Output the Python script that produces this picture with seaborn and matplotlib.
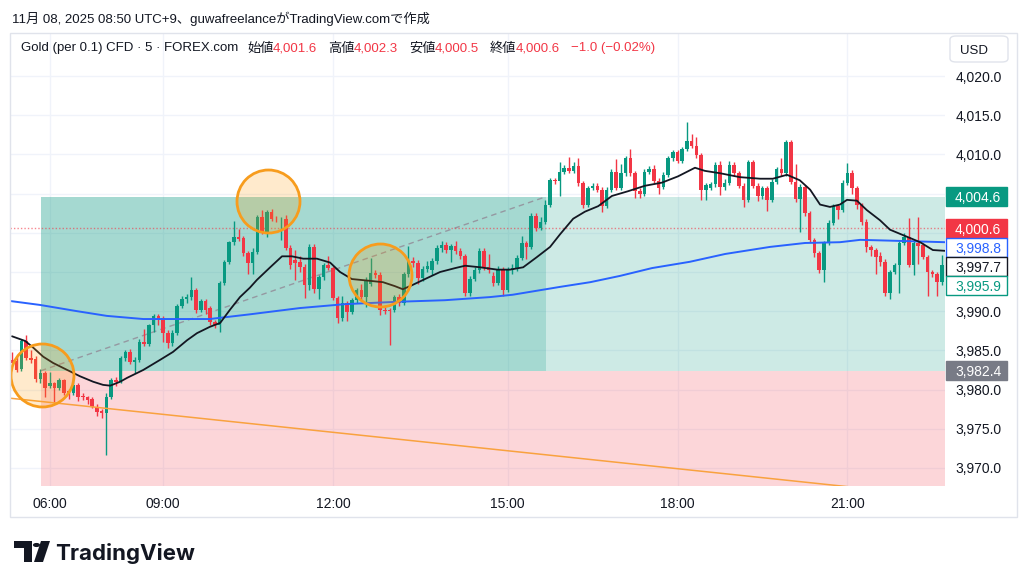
import matplotlib
matplotlib.use("Agg")
import matplotlib.pyplot as plt
import seaborn as sns
import numpy as np
from matplotlib.patches import Rectangle, FancyBboxPatch, Polygon, Circle

# ---------------- data ----------------
opens = [3983.8, 3983.6, 3982.6, 3986.2, 3984.0, 3983.9, 3981.4, 3982.1, 3980.5, 3980.8,
         3980.2, 3981.2, 3979.8, 3979.6, 3980.6, 3979.1, 3979.0, 3978.8, 3977.8, 3977.3,
         3977.0, 3979.1, 3981.2, 3981.0, 3984.0, 3984.8, 3983.5, 3983.8, 3986.1, 3985.8,
         3988.2, 3989.4, 3989.1, 3987.2, 3985.9, 3987.2, 3990.7, 3991.6, 3991.8, 3992.7,
         3990.2, 3991.3, 3990.4, 3988.6, 3988.2, 3993.6, 3996.3, 3998.8, 3999.5, 3999.3,
         3997.4, 3996.1, 3997.6, 4002.0, 4000.1, 4002.7, 4001.8, 4001.7, 4001.8, 3998.1,
         3996.5, 3996.3, 3995.6, 3993.3, 3998.2, 3992.8, 3994.3, 3995.9, 3995.5, 3991.7,
         3989.1, 3991.0, 3989.9, 3991.4, 3992.7, 3991.8, 3993.5, 3994.9, 3994.6, 3990.2,
         3990.1, 3990.1, 3991.8, 3991.0, 3994.7, 3996.4, 3996.2, 3994.2, 3995.4, 3995.3,
         3996.4, 3998.1, 3998.4, 3997.8, 3998.3, 3997.7, 3997.0, 3992.3, 3994.1, 3995.3,
         3997.7, 3995.6, 3994.5, 3993.6, 3995.3, 3992.7, 3995.3, 3995.5, 3996.8, 3998.7,
         3998.2, 4002.1, 4000.6, 4001.4, 4003.5, 4006.7, 4006.6, 4007.8, 4008.3, 4007.9,
         4008.5, 4006.4, 4003.5, 4005.7, 4006.0, 4005.5, 4003.4, 4005.5, 4007.8, 4005.7,
         4007.6, 4009.5, 4007.6, 4005.3, 4005.0, 4007.8, 4008.1, 4006.6, 4005.9, 4007.4,
         4009.5, 4010.3, 4009.2, 4010.7, 4011.7, 4011.1, 4009.9, 4005.5, 4005.7, 4006.2,
         4008.6, 4005.8, 4006.4, 4008.7, 4007.6, 4006.0, 4004.2, 4009.0, 4006.0, 4004.7,
         4005.7, 4004.2, 4006.5, 4008.1, 4007.6, 4011.6, 4006.5, 4004.3, 4005.8, 4002.5,
         3999.1, 3997.4, 3995.3, 3998.7, 4001.3, 4003.4, 4002.9, 4006.4, 4007.6, 4005.7,
         4003.5, 4001.4, 3998.2, 3997.8, 3997.0, 3996.3, 3992.3, 3995.0, 3995.9, 3998.7,
         3999.5, 3995.9, 3998.7, 3998.4, 3996.9, 3995.0, 3994.7, 3993.7]
highs = [3984.8, 3984.2, 3986.4, 3986.9, 3985.0, 3984.3, 3982.6, 3982.4, 3982.3, 3981.0,
         3981.5, 3981.4, 3980.1, 3981.6, 3980.9, 3979.6, 3979.2, 3979.0, 3978.2, 3977.5,
         3979.5, 3981.5, 3981.6, 3984.3, 3985.1, 3985.2, 3984.2, 3986.5, 3987.7, 3988.4,
         3989.6, 3989.6, 3989.4, 3987.6, 3987.6, 3990.9, 3992.0, 3992.2, 3994.3, 3992.9,
         3991.6, 3991.5, 3990.6, 3988.9, 3993.8, 3996.5, 3999.0, 4001.5, 4000.5, 3999.6,
         3997.7, 3998.0, 4002.3, 4002.9, 4002.9, 4003.0, 4002.2, 4002.0, 4002.3, 3998.4,
         3997.8, 3997.0, 3996.0, 3998.6, 3998.6, 3994.6, 3996.1, 3997.0, 3995.8, 3992.0,
         3992.0, 3991.3, 3991.7, 3993.0, 3993.5, 3994.4, 3996.8, 3995.3, 3995.0, 3990.5,
         3990.4, 3992.1, 3992.2, 3995.0, 3998.3, 3996.9, 3996.5, 3995.8, 3996.4, 3996.8,
         3998.4, 3998.9, 3998.8, 3998.6, 3998.9, 3998.0, 3997.3, 3994.5, 3995.6, 3998.0,
         3998.0, 3997.3, 3995.0, 3995.8, 3995.6, 3995.7, 3996.0, 3997.2, 3999.6, 3999.0,
         4002.5, 4002.5, 4002.0, 4004.2, 4007.0, 4007.0, 4009.0, 4008.6, 4009.7, 4009.0,
         4009.6, 4006.6, 4006.0, 4006.3, 4006.3, 4005.8, 4005.8, 4008.1, 4009.4, 4008.8,
         4009.8, 4010.7, 4007.9, 4005.7, 4008.1, 4008.5, 4008.7, 4007.0, 4007.7, 4009.8,
         4010.6, 4010.6, 4011.0, 4014.1, 4012.6, 4012.2, 4010.2, 4006.4, 4006.5, 4009.0,
         4009.2, 4006.9, 4009.2, 4009.0, 4007.9, 4006.3, 4009.3, 4009.3, 4006.3, 4006.0,
         4006.0, 4006.8, 4008.4, 4009.5, 4011.8, 4011.8, 4008.8, 4006.2, 4006.1, 4002.8,
         3999.4, 3997.7, 3999.0, 4001.6, 4003.7, 4003.7, 4006.7, 4008.9, 4008.0, 4006.0,
         4003.8, 4001.7, 3998.5, 3998.1, 3997.5, 3996.6, 3995.3, 3996.2, 3999.0, 4000.0,
         4001.9, 3999.0, 4002.0, 3998.7, 3997.2, 3995.3, 3995.0, 3997.2]
lows = [3983.0, 3982.2, 3982.4, 3983.8, 3983.4, 3981.0, 3980.9, 3979.0, 3980.2, 3978.4,
        3980.0, 3979.3, 3978.8, 3979.3, 3978.5, 3978.7, 3978.1, 3977.6, 3976.6, 3976.4,
        3971.7, 3978.8, 3980.5, 3980.8, 3983.7, 3983.2, 3982.1, 3983.5, 3985.5, 3985.5,
        3987.4, 3988.3, 3986.1, 3985.3, 3985.6, 3986.9, 3990.4, 3991.0, 3991.4, 3989.8,
        3989.9, 3989.6, 3988.3, 3987.9, 3987.3, 3993.3, 3996.0, 3998.5, 3998.9, 3997.0,
        3994.8, 3994.8, 3997.3, 3999.8, 3999.5, 4001.5, 4001.4, 3999.1, 3997.8, 3995.4,
        3994.0, 3995.0, 3991.7, 3992.7, 3992.3, 3991.5, 3994.0, 3995.2, 3991.4, 3988.5,
        3988.8, 3988.8, 3989.6, 3991.1, 3991.3, 3990.5, 3993.2, 3994.2, 3989.5, 3989.6,
        3985.7, 3989.9, 3990.6, 3990.8, 3994.4, 3995.6, 3993.5, 3993.9, 3995.0, 3994.6,
        3996.0, 3997.6, 3997.4, 3996.3, 3997.3, 3996.6, 3992.0, 3991.9, 3993.8, 3994.9,
        3995.2, 3994.9, 3993.2, 3993.3, 3992.0, 3992.4, 3994.8, 3995.1, 3996.5, 3996.7,
        3997.9, 4000.2, 4000.3, 4001.1, 4003.3, 4006.2, 4004.7, 4007.5, 4007.6, 4007.6,
        4006.0, 4003.2, 4003.3, 4005.4, 4005.2, 4002.6, 4003.1, 4005.2, 4005.4, 4005.4,
        4007.3, 4007.3, 4004.4, 4004.5, 4004.7, 4007.5, 4006.3, 4004.9, 4005.6, 4007.1,
        4009.2, 4008.9, 4008.9, 4010.4, 4010.8, 4009.6, 4004.2, 4004.2, 4005.4, 4005.9,
        4004.8, 4005.5, 4006.1, 4007.3, 4005.7, 4003.3, 4003.9, 4005.7, 4004.0, 4004.3,
        4002.8, 4003.9, 4006.2, 4007.3, 4007.3, 4006.2, 4003.9, 4000.1, 4002.2, 3998.8,
        3996.9, 3994.9, 3993.7, 3998.4, 4001.0, 4001.8, 4002.6, 4006.1, 4005.0, 4003.0,
        4001.0, 3997.5, 3997.0, 3994.8, 3995.8, 3991.9, 3991.6, 3994.7, 3992.3, 3998.4,
        3995.6, 3994.6, 3996.0, 3996.6, 3992.0, 3994.3, 3991.9, 3993.4]
closes = [3983.4, 3982.5, 3986.2, 3984.0, 3983.8, 3981.4, 3982.1, 3980.2, 3980.8, 3980.2,
          3981.2, 3979.6, 3979.6, 3980.6, 3979.1, 3979.0, 3978.7, 3977.8, 3977.1, 3977.0,
          3979.1, 3981.2, 3981.0, 3984.0, 3984.8, 3983.5, 3983.8, 3986.1, 3985.8, 3988.2,
          3989.4, 3988.9, 3987.2, 3985.9, 3987.2, 3990.7, 3991.6, 3991.8, 3992.7, 3990.2,
          3991.3, 3990.2, 3988.6, 3988.2, 3993.6, 3996.3, 3998.8, 3999.5, 3999.2, 3997.4,
          3996.1, 3997.6, 4002.0, 4000.1, 4002.7, 4001.8, 4001.7, 4001.8, 3998.1, 3995.9,
          3996.1, 3995.6, 3993.3, 3998.2, 3992.8, 3994.3, 3995.9, 3995.5, 3991.7, 3989.1,
          3991.0, 3989.9, 3991.4, 3992.7, 3991.8, 3994.0, 3994.9, 3994.6, 3990.2, 3990.0,
          3990.0, 3991.8, 3991.0, 3994.7, 3996.4, 3996.1, 3994.2, 3995.4, 3995.8, 3996.4,
          3998.1, 3998.4, 3997.8, 3998.3, 3997.7, 3997.0, 3992.3, 3994.1, 3995.3, 3997.7,
          3995.6, 3995.3, 3993.6, 3995.3, 3992.7, 3995.3, 3995.5, 3996.8, 3998.7, 3998.2,
          4002.1, 4000.6, 4001.4, 4003.5, 4006.7, 4006.6, 4007.8, 4008.3, 4007.9, 4008.5,
          4006.4, 4003.5, 4005.7, 4006.0, 4005.5, 4003.4, 4005.5, 4007.8, 4005.7, 4007.6,
          4009.5, 4007.6, 4005.3, 4005.0, 4007.8, 4008.1, 4006.6, 4005.7, 4007.4, 4009.5,
          4010.3, 4009.2, 4010.7, 4011.7, 4011.1, 4009.9, 4005.5, 4006.1, 4006.2, 4008.6,
          4005.8, 4006.4, 4008.7, 4007.6, 4006.0, 4004.2, 4009.0, 4006.0, 4004.7, 4005.7,
          4004.2, 4006.5, 4008.1, 4007.6, 4011.6, 4006.5, 4004.3, 4005.8, 4002.5, 3999.1,
          3997.4, 3995.3, 3998.7, 4001.3, 4003.4, 4002.9, 4006.4, 4007.6, 4005.7, 4003.5,
          4001.4, 3998.2, 3997.8, 3996.9, 3996.3, 3992.3, 3995.0, 3995.9, 3998.7, 3999.5,
          3995.9, 3998.7, 3998.3, 3996.9, 3995.0, 3994.7, 3993.7, 3995.9]

time_tick_idx = [8, 32, 68, 105, 141, 177]
time_tick_labels = ["06:00", "09:00", "12:00", "15:00", "18:00", "21:00"]
price_ticks = [3970, 3975, 3980, 3985, 3990, 3995, 4000, 4005, 4010, 4015, 4020]

ma_fast_idx = [0, 2.8, 4.4, 6.6, 8.7, 11.7, 14.4, 17.2, 19.3, 20.8, 22.9, 24.4, 27.8, 31.4,
               34.1, 37.1, 39.2, 41.9, 44.1, 46.2, 48.3, 50.4, 51.9, 54.7, 57.2, 59.3, 61.7,
               64.6, 67.4, 69.5, 72.0, 75.4, 78.6, 81.1, 82.8, 84.7, 87.5, 90.7, 93.9, 96.0,
               99.2, 102.8, 105.5, 108.3, 111.2, 114.0, 116.1, 118.9, 121.4, 124.2, 127.1,
               130.5, 134.1, 137.7, 141.1, 144.7, 146.8, 150.0, 154.2, 158.5, 161.2, 164.2,
               166.9, 169.1, 171.2, 173.3, 175.4, 176.9, 179.0, 181.1, 183.9, 186.0, 189.6,
               192.4, 195.1, 197.7]
ma_fast_val = [3986.8, 3986.2, 3985.4, 3984.2, 3983.4, 3982.5, 3981.7, 3981.0, 3980.6, 3980.5,
               3981.0, 3981.5, 3982.5, 3983.8, 3984.8, 3986.3, 3987.2, 3988.0, 3988.5, 3990.2,
               3991.8, 3993.0, 3994.0, 3995.6, 3997.0, 3997.0, 3996.7, 3996.7, 3996.2, 3995.0,
               3994.1, 3993.9, 3993.7, 3993.2, 3992.8, 3993.3, 3994.1, 3995.0, 3995.5, 3995.8,
               3995.6, 3995.3, 3995.3, 3995.6, 3996.9, 3998.2, 3999.8, 4001.8, 4002.7, 4003.4,
               4004.7, 4005.3, 4006.0, 4006.4, 4007.2, 4008.3, 4007.9, 4007.6, 4007.1, 4006.9,
               4006.9, 4007.4, 4006.7, 4005.5, 4003.6, 4003.3, 4003.6, 4004.2, 4004.1, 4002.9,
               4001.6, 4000.4, 3999.5, 3998.8, 3997.8, 3997.7]
ma_slow_idx = [-0.4, 5.9, 13.8, 20.1, 27.8, 35.0, 41.9, 50.4, 61.0, 70.6, 81.6, 91.7, 101.3,
               106.1, 116.1, 122.5, 128.8, 135.6, 143.6, 151.1, 160.6, 168.0, 175.4, 179.7,
               186.0, 197.7]
ma_slow_val = [3991.3, 3990.8, 3990.0, 3989.4, 3989.0, 3989.0, 3989.0, 3989.6, 3990.4, 3990.9,
               3991.2, 3991.4, 3991.8, 3992.1, 3993.1, 3993.7, 3994.5, 3995.5, 3996.3, 3997.3,
               3998.2, 3998.7, 3998.8, 3999.1, 3999.0, 3998.8]

entry_price, target_price, stop_price = 3982.4, 4004.6, 3960.0
position_start_idx, position_exit_idx = 6.1, 113.1
trend_idx = [-0.4, 197.7]
trend_val = [3978.9, 3966.3]
circle_idx = [6.4, 54.2, 78.0]
circle_val = [3981.9, 4004.1, 3994.6]
current_price = 4000.6
# right-axis value labels: value, text colour, fill, edge
value_labels = [(4004.6, "white", "#089981", "#089981"),
                (4000.6, "white", "#f23645", "#f23645"),
                (3998.8, "#2962ff", "white", "#2962ff"),
                (3997.7, "#131722", "white", "#131722"),
                (3995.9, "#089981", "white", "#089981"),
                (3982.4, "white", "#787b86", "#787b86")]
title_text = "11月 08, 2025 08:50 UTC+9、guwafreelanceがTradingView.comで作成"
legend_parts = [("Gold (per 0.1) CFD · 5 · FOREX.com", 21, "dark"),
                ("始値", 247, "dark"), ("4,001.6", 273, "red"),
                ("高値", 328, "dark"), ("4,002.3", 354, "red"),
                ("安値", 409, "dark"), ("4,000.5", 435, "red"),
                ("終値", 490, "dark"), ("4,000.6", 516, "red"),
                ("−1.0 (−0.02%)", 571, "red")]

# ---------------- style ----------------
sns.set_style("white")
plt.rcParams["font.family"] = ["Liberation Sans", "Noto Sans CJK JP", "DejaVu Sans"]
GREEN, RED, DARK = "#089981", "#f23645", "#131722"

W, H = 1024, 586
fig = plt.figure(figsize=(W / 100, H / 100), dpi=100)
fig.patch.set_facecolor("white")

def fx(px):
    return px / W

def fy(py):
    return 1 - py / H

PL, PR, PT, PB = 10, 945, 34, 486
X0_PX, STEP_PX = 12.0, 4.72
YMIN, YMAX = 3967.70, 4025.36
ax = fig.add_axes([fx(PL), fy(PB), (PR - PL) / W, (PB - PT) / H])
ax.set_xlim((PL - X0_PX) / STEP_PX, (PR - X0_PX) / STEP_PX)
ax.set_ylim(YMIN, YMAX)
XMAX = (PR - X0_PX) / STEP_PX

def py_of(v):
    return PT + (YMAX - v) / (YMAX - YMIN) * (PB - PT)

# stacked positions of the right-axis value labels
BOX_H = 19
label_rows = []
prev = -1e9
for v, tc, fc, ec in sorted(value_labels, key=lambda t: -t[0]):
    py = max(py_of(v), prev + BOX_H)
    prev = py
    label_rows.append((py, v, tc, fc, ec))

for s in ax.spines.values():
    s.set_visible(False)
ax.set_axisbelow(True)
ax.grid(True, color="#f0f3fa", lw=1)

ax.set_xticks(time_tick_idx)
ax.set_xticklabels(time_tick_labels)
ax.set_yticks(price_ticks)
tick_txt = []
for v in price_ticks:
    covered = any(abs(py_of(v) - r[0]) < BOX_H / 2 + 4 for r in label_rows)
    tick_txt.append("" if covered else f"{v:,.1f}")
ax.set_yticklabels(tick_txt)
ax.yaxis.tick_right()
ax.tick_params(axis="both", length=0, labelsize=10, labelcolor=DARK)
ax.tick_params(axis="y", pad=7.5)
ax.tick_params(axis="x", pad=8)

# position tool zones
ax.add_patch(Rectangle((position_start_idx, entry_price), XMAX + 5 - position_start_idx,
                       target_price - entry_price, facecolor=GREEN, alpha=0.2, lw=0, zorder=1))
ax.add_patch(Rectangle((position_start_idx, entry_price), position_exit_idx - position_start_idx,
                       target_price - entry_price, facecolor=GREEN, alpha=0.2, lw=0, zorder=1))
ax.add_patch(Rectangle((position_start_idx, stop_price), XMAX + 5 - position_start_idx,
                       entry_price - stop_price, facecolor=RED, alpha=0.2, lw=0, zorder=1))
ax.plot([position_start_idx, position_exit_idx], [entry_price, target_price],
        color="#9598a1", lw=1, ls=(0, (4, 3)), zorder=2)

# current price dotted line
ax.axhline(current_price, color=RED, lw=1, ls=(0, (1, 1.5)), alpha=0.6, zorder=2)

# candles
o = np.array(opens); h = np.array(highs); l = np.array(lows); c = np.array(closes)
idx = np.arange(len(c))
cols = np.where(c >= o, GREEN, RED)
ax.vlines(idx, l, h, colors=cols, lw=1, zorder=3)
ax.bar(idx, np.maximum(np.abs(c - o), 0.12), bottom=np.minimum(o, c), width=0.74,
       color=cols, lw=0, zorder=3.1)

# trend line
ax.plot(trend_idx, trend_val, color="#f9a23f", lw=1.1, zorder=3.5)

# moving averages
sns.lineplot(x=ma_slow_idx, y=ma_slow_val, ax=ax, color="#2962ff", lw=1.4,
             estimator=None, sort=False, zorder=4)
sns.lineplot(x=ma_fast_idx, y=ma_fast_val, ax=ax, color=DARK, lw=1.3,
             estimator=None, sort=False, zorder=4.1)

# circles
diam_pt = 63 * 0.72
ax.scatter(circle_idx, circle_val, s=diam_pt ** 2, facecolor=(1.0, 0.6, 0.0, 0.2),
           edgecolor="#f79c1d", linewidths=2, zorder=5)

# chart frame
fig.add_artist(Rectangle((fx(10), fy(517)), (1017 - 10) / W, (517 - 33) / H,
                         fill=False, edgecolor="#e0e3eb", lw=1, transform=fig.transFigure))

# right-axis value label boxes
for py, v, tc, fc, ec in label_rows:
    fig.add_artist(Rectangle((fx(946), fy(py + BOX_H / 2)), 61 / W, BOX_H / H,
                             facecolor=fc, edgecolor=ec, lw=1, transform=fig.transFigure,
                             zorder=5))
    fig.text(fx(955), fy(py), f"{v:,.1f}", color=tc, fontsize=10, ha="left",
             va="center_baseline", zorder=6)

# USD box
fig.add_artist(FancyBboxPatch((fx(950), fy(62)), 58 / W, 26 / H,
                              boxstyle="round,pad=0,rounding_size=0.006",
                              facecolor="white", edgecolor="#e0e3eb", lw=1,
                              transform=fig.transFigure, zorder=5))
fig.text(fx(960), fy(49), "USD", color=DARK, fontsize=9.5, ha="left",
         va="center_baseline", zorder=6)

# header texts
fig.text(fx(12), fy(17), title_text, color=DARK, fontsize=9.5, ha="left",
         va="center_baseline")
for txt, px, col in legend_parts:
    fig.text(fx(px), fy(47), txt, color=RED if col == "red" else DARK, fontsize=9.5,
             ha="left", va="center_baseline", zorder=6)

# TradingView logo
def pts(lst):
    return [(fx(a), fy(b)) for a, b in lst]

fig.add_artist(Polygon(pts([(14, 541), (32, 541), (32, 562), (24, 562), (24, 548), (14, 548)]),
                       closed=True, facecolor=DARK, lw=0, transform=fig.transFigure))
fig.add_artist(Circle((fx(36.5), fy(545)), 3.6 / W, facecolor=DARK, lw=0,
                      transform=fig.transFigure))
fig.add_artist(Polygon(pts([(41, 541), (50, 541), (43, 562), (34, 562)]), closed=True,
                       facecolor=DARK, lw=0, transform=fig.transFigure))
fig.text(fx(55), fy(552), "TradingView", color=DARK, fontsize=16, fontweight="bold",
         family=["Inter", "DejaVu Sans"], ha="left", va="center_baseline")

fig.savefig("out.png", dpi=100, facecolor="white")
